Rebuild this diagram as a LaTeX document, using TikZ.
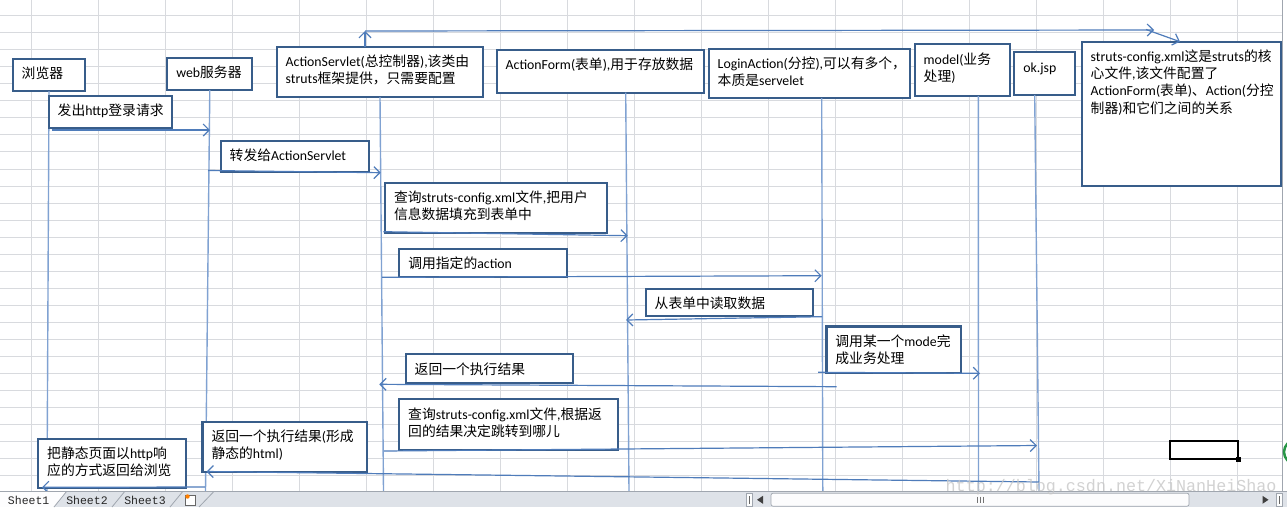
\documentclass[tikz,border=0pt]{standalone}
\usepackage{fontspec}
\setmainfont{Carlito}
\newfontfamily\cjk{Noto Sans CJK SC}
\newfontfamily\monof{Liberation Mono}
\usetikzlibrary{arrows.meta}
\definecolor{boxblue}{RGB}{56,93,138}
\definecolor{lifeblue}{RGB}{128,162,210}
\definecolor{arrblue}{RGB}{79,124,186}
\definecolor{gridgray}{RGB}{216,218,222}
\definecolor{barbg}{RGB}{222,226,232}
\definecolor{bardark}{RGB}{160,166,175}
\newcommand\zh[1]{{\cjk #1}}
\newcommand\mkbox[6]{%
  \pgfmathsetmacro\bw{#4-#2}\pgfmathsetmacro\bh{#5-#3}%
  \node[boxst, anchor=north west] (#1) at (#2,#3)
    {\parbox[t][\bh pt][t]{\bw pt}{\vspace*{7.7pt}\raggedright\leftskip=9pt\rule{0pt}{12pt}#6}};}
\tikzset{
  boxst/.style={draw=boxblue, line width=2.2pt, fill=white, inner sep=0pt, outer sep=0pt,
    font=\fontsize{13.8}{17.2}\selectfont},
  life/.style={draw=lifeblue, line width=1.4pt},
  arr/.style={draw=arrblue, line width=1.2pt, -{Straight Barb[length=6pt,width=12pt]}},
  gridline/.style={draw=gridgray, line width=0.9pt},
  tabtext/.style={font=\monof\fontsize{11.5}{11.5}\selectfont, inner sep=0pt, text=black!85}
}
\begin{document}
\begin{tikzpicture}[x=1pt,y=-1pt]
\useasboundingbox (0,0) rectangle (1287,507);
\fill[white] (0,0) rectangle (1287,507);
% worksheet grid
\foreach \k in {0,...,27} \draw[gridline] (0,{15.7+17.03*\k}) -- (1282,{15.7+17.03*\k});
\foreach \k in {0,...,18} \draw[gridline] ({31.7+67*\k},0) -- ({31.7+67*\k},491.7);
\draw[bardark, line width=1pt] (1282.3,0) -- (1282.3,491.7);
\begin{scope}
  \clip (1282.8,0) rectangle (1287,491);
  \draw[draw={rgb,255:red,40;green,150;blue,70}, line width=2.5pt, fill=white] (1296,452) circle (12);
\end{scope}

% lifeline ends
\coordinate (L1b) at (47,491);
\coordinate (L2b) at (205.5,491);
\coordinate (L3b) at (383.5,491);
\coordinate (L4t) at (625.7,92.7);  \coordinate (L4b) at (629,491);
\coordinate (L5t) at (821.7,98);    \coordinate (L5b) at (822.8,491);
\coordinate (L6t) at (978.3,96);    \coordinate (L6b) at (978.5,491);
\coordinate (L7t) at (1034.7,95);   \coordinate (L7b) at (1039,491);

% participant boxes
\mkbox{B1}{12.7}{58.7}{85.3}{91}{\zh{浏览器}}
\mkbox{B2}{167.3}{57.7}{252.3}{90}{web\zh{服务器}}
\mkbox{B3}{276.7}{46.7}{483.3}{97}{ActionServlet(\zh{总控制器}),\zh{该类由}\\struts\zh{框架提供，只需要配置}}
\mkbox{B4}{496.7}{50}{704}{92.7}{ActionForm(\zh{表单}),\zh{用于存放数据}}
\mkbox{B5}{708.7}{48.7}{910}{98}{LoginAction(\zh{分控}),\zh{可以有多个，}\\\zh{本质是}servelet}
\mkbox{B6}{914.7}{44.3}{1010}{96}{model(\zh{业务}\\\zh{处理})}
\mkbox{B7}{1014.3}{52.3}{1075}{95}{ok.jsp}
\mkbox{B8}{1081.7}{41.7}{1281.3}{185.7}{struts-config.xml\zh{这是}struts\zh{的核}\\\zh{心文件},\zh{该文件配置了}\\ActionForm(\zh{表单})\zh{、}Action(\zh{分控}\\\zh{制器})\zh{和它们之间的关系}}

% lifelines (behind message boxes)
\draw[life] (B1.south) -- (L1b);
\draw[life] (B2.south) -- (L2b);
\draw[life] (B3.south) -- (L3b);
\draw[life] (L4t) -- (L4b);
\draw[life] (L5t) -- (L5b);
\draw[life] (L6t) -- (L6b);
\draw[life] (L7t) -- (L7b);

% message boxes
\mkbox{Ma}{48.7}{95.7}{172.3}{128}{\zh{发出}http\zh{登录请求}}
\mkbox{Mb}{220.7}{140.7}{369.3}{172}{\zh{转发给}ActionServlet}
\mkbox{Mc}{385}{182.7}{606.7}{232.7}{\zh{查询}struts-config.xml\zh{文件},\zh{把用户}\\\zh{信息数据填充到表单中}}
\mkbox{Md}{399.3}{249}{567.3}{276.7}{\zh{调用指定的}action}
\mkbox{Me}{645.7}{289}{813.3}{316}{\zh{从表单中读取数据}}
\mkbox{Mf}{826.4}{326.5}{961.3}{372.7}{\zh{调用某一个}mode\zh{完}\\\zh{成业务处理}}
\mkbox{Mg}{405.7}{354.3}{573.3}{382.7}{\zh{返回一个执行结果}}
\mkbox{Mh}{399.2}{399.3}{618.3}{450}{\zh{查询}struts-config.xml\zh{文件},\zh{根据返}\\\zh{回的结果决定跳转到哪儿}}
\mkbox{Mi}{202.5}{421.7}{366.8}{471.7}{\zh{返回一个执行结果}(\zh{形成}\\\zh{静态的}html)}
\mkbox{Mj}{38.2}{439}{185.9}{488.3}{\zh{把静态页面以}http\zh{响}\\\zh{应的方式返回给浏览}}

% top connector
\coordinate (t0) at (365,46.7);
\coordinate (t1) at (365,31);
\coordinate (t2) at (1154,30);
\coordinate (t3) at (1146,29.5);
\coordinate (t4) at (1180,41.7);
\draw[arr] (t0) -- (t1);
\draw[arr] (t1) -- (t2);
\draw[arr] (t3) -- (t4);

% messages
\coordinate (a1) at (51.7,130);    \coordinate (a2) at (210,130);
\coordinate (b1) at (208,170.5);   \coordinate (b2) at (380.7,172.7);
\coordinate (c1) at (383.3,231.7); \coordinate (c2) at (627.7,235.7);
\coordinate (d1) at (382,277.3);   \coordinate (d2) at (821.7,275.7);
\coordinate (e1) at (822,316.7);   \coordinate (e2) at (626,320);
\coordinate (f1) at (818,372.3);   \coordinate (f2) at (980,373.3);
\coordinate (g1) at (836.7,386.7); \coordinate (g2) at (379.3,384.3);
\coordinate (h1) at (384,451);     \coordinate (h2) at (1037,445.5);
\coordinate (i1) at (1039,482);    \coordinate (i2) at (206.5,471.5);
\coordinate (j1) at (205,487);     \coordinate (j2) at (42,487.3);
\draw[arr] (a1) -- (a2);
\draw[arr] (b1) -- (b2);
\draw[arr] (c1) -- (c2);
\draw[arr] (d1) -- (d2);
\draw[arr] (e1) -- (e2);
\draw[arr] (f1) -- (f2);
\draw[arr] (g1) -- (g2);
\draw[arr] (h1) -- (h2);
\draw[arr] (i1) -- (i2);
\draw[arr] (j1) -- (j2);

% selected cell
\draw[black, line width=2.2pt] (1170,441) rectangle (1237.7,458.7);
\fill[black] (1235.7,456.7) rectangle (1240.7,461.7);

% sheet tab bar and scroll bar
\fill[barbg] (0,491.7) rectangle (1287,507);
\fill[white!94!barbg] (0,491.7) -- (66.4,491.7) -- (54,507) -- (0,507) -- cycle;
\draw[bardark, line width=0.8pt] (0,491.7) -- (1287,491.7);
\foreach \xa/\xb in {54/66.4, 112/124.5, 170/182.6, 199/213.7}
  \draw[bardark, line width=0.8pt] (\xa,507) -- (\xb,491.7);
\node[tabtext] (s1) at (28.7,500.6) {Sheet1};
\node[tabtext] (s2) at (87,500.6) {Sheet2};
\node[tabtext] (s3) at (145,500.6) {Sheet3};
\draw[black!60, fill=white, line width=0.6pt] (185.5,495.5) rectangle (195.5,505);
\fill[orange] (187.5,496.5) circle (2.2);
% scroll bar
\draw[bardark, fill=white!92!barbg, line width=0.6pt] (746,493.5) rectangle (752.5,506);
\draw[black!60, line width=0.6pt] (749.2,496) -- (749.2,503.5);
\fill[black!75] (757,499.8) -- (763,495.8) -- (763,503.8) -- cycle;
\draw[bardark, fill=white!90!barbg, rounded corners=2pt, line width=0.7pt] (771,493.2) rectangle (1189,506.2);
\foreach \gx in {977,980,983} \draw[black!55, line width=0.6pt] (\gx,496.5) -- (\gx,503);
\fill[black!75] (1268.5,499.8) -- (1262.5,495.8) -- (1262.5,503.8) -- cycle;
\draw[bardark, fill=white!92!barbg, line width=0.6pt] (1276,493.5) rectangle (1282,506);
\draw[black!60, line width=0.6pt] (1279,496) -- (1279,503.5);

% watermark
\node[font=\monof\fontsize{16.7}{16.7}\selectfont, text=black!22, anchor=west, inner sep=0pt, opacity=0.8] (wm) at (945.5,487.5) {http://blog.csdn.net/XiNanHeiShao};
\end{tikzpicture}
\end{document}
